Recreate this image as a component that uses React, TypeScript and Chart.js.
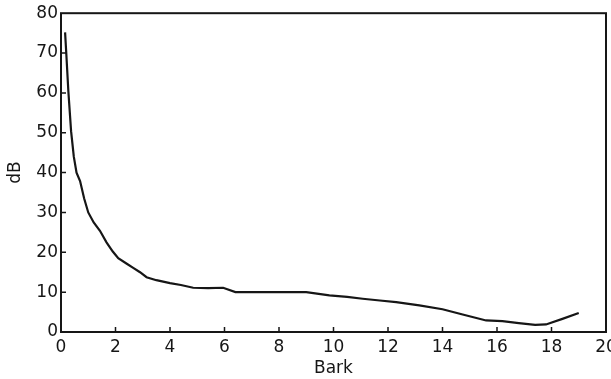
import React, { useEffect, useRef } from "react";
import { Chart, registerables } from "chart.js";

Chart.register(...registerables);

const barkValues = [0.15, 0.19, 0.27, 0.37, 0.47, 0.57, 0.7, 0.85, 1.0, 1.2, 1.43, 1.67, 1.9, 2.1, 2.4, 2.65, 2.9, 3.14, 3.5, 4.0, 4.4, 4.85, 5.4, 5.95, 6.4, 7.0, 8.0, 9.0, 9.85, 10.5, 11.07, 11.7, 12.3, 13.15, 14.0, 14.74, 15.6, 16.2, 16.8, 17.4, 17.8, 18.4, 19.0];
const dbValues = [75.2, 70.4, 60.4, 50.4, 44, 40, 37.9, 33.5, 30, 27.5, 25.4, 22.5, 20.2, 18.5, 17.2, 16.1, 15, 13.75, 13, 12.25, 11.8, 11.1, 11, 11.1, 10, 10, 10, 10, 9.2, 8.8, 8.35, 7.9, 7.5, 6.7, 5.7, 4.4, 2.9, 2.75, 2.25, 1.8, 1.9, 3.3, 4.75];
const xTitle = "Bark";
const yTitle = "dB";

const FONT = "DejaVu Sans";
const INK = "#161616";

const frameAndTicks = {
  id: "frameAndTicks",
  afterDraw(chart: any) {
    const { ctx, chartArea } = chart;
    const xs = chart.scales.x;
    const ys = chart.scales.y;
    ctx.save();
    ctx.strokeStyle = INK;
    ctx.lineWidth = 2;
    ctx.strokeRect(chartArea.left, chartArea.top, chartArea.right - chartArea.left, chartArea.bottom - chartArea.top);
    ctx.lineWidth = 1.5;
    ctx.beginPath();
    xs.ticks.forEach((t: any) => {
      const px = xs.getPixelForValue(t.value);
      if (px <= chartArea.left + 1 || px >= chartArea.right - 1) return;
      ctx.moveTo(px, chartArea.bottom);
      ctx.lineTo(px, chartArea.bottom - 5);
    });
    ys.ticks.forEach((t: any) => {
      const py = ys.getPixelForValue(t.value);
      if (py >= chartArea.bottom - 1 || py <= chartArea.top + 1) return;
      ctx.moveTo(chartArea.left, py);
      ctx.lineTo(chartArea.left + 5, py);
    });
    ctx.stroke();
    ctx.restore();
  },
};

export default function App() {
  const ref = useRef<HTMLCanvasElement | null>(null);
  useEffect(() => {
    document.body.style.margin = "0";
    const data = barkValues.map((x, i) => ({ x, y: dbValues[i] }));
    const chart = new Chart(ref.current as HTMLCanvasElement, {
      type: "line",
      data: {
        datasets: [
          {
            data,
            borderColor: INK,
            borderWidth: 2.2,
            pointRadius: 0,
            tension: 0,
            fill: false,
          },
        ],
      },
      options: {
        animation: false,
        responsive: false,
        maintainAspectRatio: false,
        layout: { padding: { top: 11, right: 5, left: 0, bottom: 0 } },
        plugins: { legend: { display: false }, tooltip: { enabled: false } },
        scales: {
          x: {
            type: "linear",
            min: 0,
            max: 20,
            ticks: { stepSize: 2, color: INK, font: { family: FONT, size: 17 }, padding: 5, maxRotation: 0 },
            grid: { display: false, drawTicks: false },
            border: { display: false },
            title: { display: true, text: xTitle, color: INK, font: { family: FONT, size: 17 }, padding: { top: 0, bottom: 0 } },
            afterFit: (scale: any) => {
              scale.paddingRight = 0;
              scale.paddingLeft = 0;
              scale.height = 47;
            },
          },
          y: {
            type: "linear",
            min: 0,
            max: 80,
            ticks: { stepSize: 10, color: INK, font: { family: FONT, size: 17 }, padding: 3 },
            grid: { display: false, drawTicks: false },
            border: { display: false },
            title: { display: true, text: yTitle, color: INK, font: { family: FONT, size: 17 }, padding: { top: 5, bottom: 0 } },
            afterFit: (scale: any) => {
              scale.width = 61;
            },
          },
        },
      },
      plugins: [frameAndTicks],
    });
    return () => chart.destroy();
  }, []);
  return (
    <div style={{ position: "absolute", left: 0, top: 0, width: 611, height: 379, background: "#fff" }}>
      <canvas ref={ref} width={611} height={379} style={{ width: 611, height: 379 }} />
    </div>
  );
}
